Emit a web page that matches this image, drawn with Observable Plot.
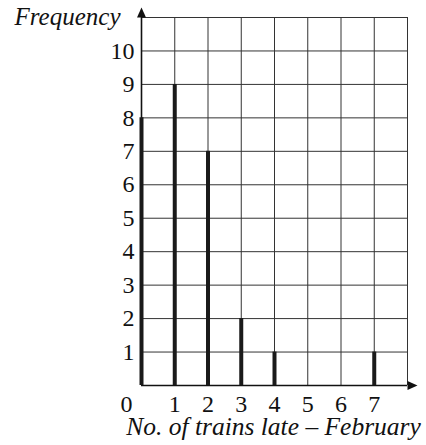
<!DOCTYPE html>
<html>
<head>
<meta charset="utf-8">
<script src="https://cdn.jsdelivr.net/npm/d3@7"></script>
<script src="https://cdn.jsdelivr.net/npm/@observablehq/plot@0.6"></script>
<style>
  html, body { margin: 0; padding: 0; background: #fff; }
</style>
</head>
<body>
<div id="chart"></div>
<script>
// Data
const trainsLate = [0, 1, 2, 3, 4, 7];
const frequency = [8, 9, 7, 2, 1, 1];
const xTickValues = [0, 1, 2, 3, 4, 5, 6, 7];
const yTickValues = [1, 2, 3, 4, 5, 6, 7, 8, 9, 10];
const xGrid = [0, 1, 2, 3, 4, 5, 6, 7, 8];
const yGrid = [0, 1, 2, 3, 4, 5, 6, 7, 8, 9, 10, 11];
const xTitle = "No. of trains late \u2013 February";
const yTitle = "Frequency";

const xMax = d3.max(xGrid);
const yMax = d3.max(yGrid);
const rows = trainsLate.map((x, i) => ({x, f: frequency[i]}));

const arrowSymbol = {
  draw(context) {
    context.moveTo(0, -10);
    context.lineTo(4.5, 0);
    context.lineTo(-4.5, 0);
    context.closePath();
  }
};

const font = "Liberation Serif, Times New Roman, serif";

const chart = Plot.plot({
  width: 426,
  height: 445,
  marginLeft: 141,
  marginRight: 19,
  marginTop: 17,
  marginBottom: 60,
  x: {domain: [0, xMax], axis: null},
  y: {domain: [0, yMax], axis: null},
  style: {fontFamily: font, background: "#fff", color: "#111"},
  marks: [
    Plot.ruleX(xGrid, {x: d => d, y1: 0, y2: yMax, stroke: "#333", strokeWidth: 1}),
    Plot.ruleY(yGrid, {y: d => d, x1: 0, x2: xMax, stroke: "#333", strokeWidth: 1}),
    Plot.ruleY([0], {x1: 0, x2: xMax, stroke: "#111", strokeWidth: 1.6}),
    Plot.ruleX([0], {y1: 0, y2: yMax, stroke: "#111", strokeWidth: 1.6}),
    Plot.ruleX(rows, {x: "x", y1: 0, y2: "f", stroke: "#1a1a1a", strokeWidth: 4}),
    Plot.dot([0], {x: 0, y: yMax, symbol: arrowSymbol, fill: "#111", stroke: "none"}),
    Plot.dot([0], {x: xMax, y: 0, symbol: arrowSymbol, rotate: 90, fill: "#111", stroke: "none"}),
    Plot.text(yTickValues, {x: 0, y: d => d, text: d => String(d), dx: -7, dy: 0, textAnchor: "end", lineAnchor: "middle", fontSize: 24, fontFamily: font}),
    Plot.text(xTickValues.filter(d => d !== 0), {x: d => d, y: 0, text: d => String(d), dy: 19, lineAnchor: "middle", fontSize: 24, fontFamily: font}),
    Plot.text(xTickValues.filter(d => d === 0), {x: d => d, y: 0, text: d => String(d), dx: -15, dy: 19, lineAnchor: "middle", fontSize: 24, fontFamily: font}),
    Plot.text([yTitle], {x: 0, y: yMax, text: d => d, dx: -21, dy: -1, textAnchor: "end", lineAnchor: "middle", fontSize: 25, fontStyle: "italic", fontFamily: font}),
    Plot.text([xTitle], {frameAnchor: "bottom", text: d => d, dx: -1, dy: 41, lineAnchor: "middle", fontSize: 25.5, fontStyle: "italic", fontFamily: font})
  ]
});
document.getElementById("chart").append(chart);
</script>
</body>
</html>
